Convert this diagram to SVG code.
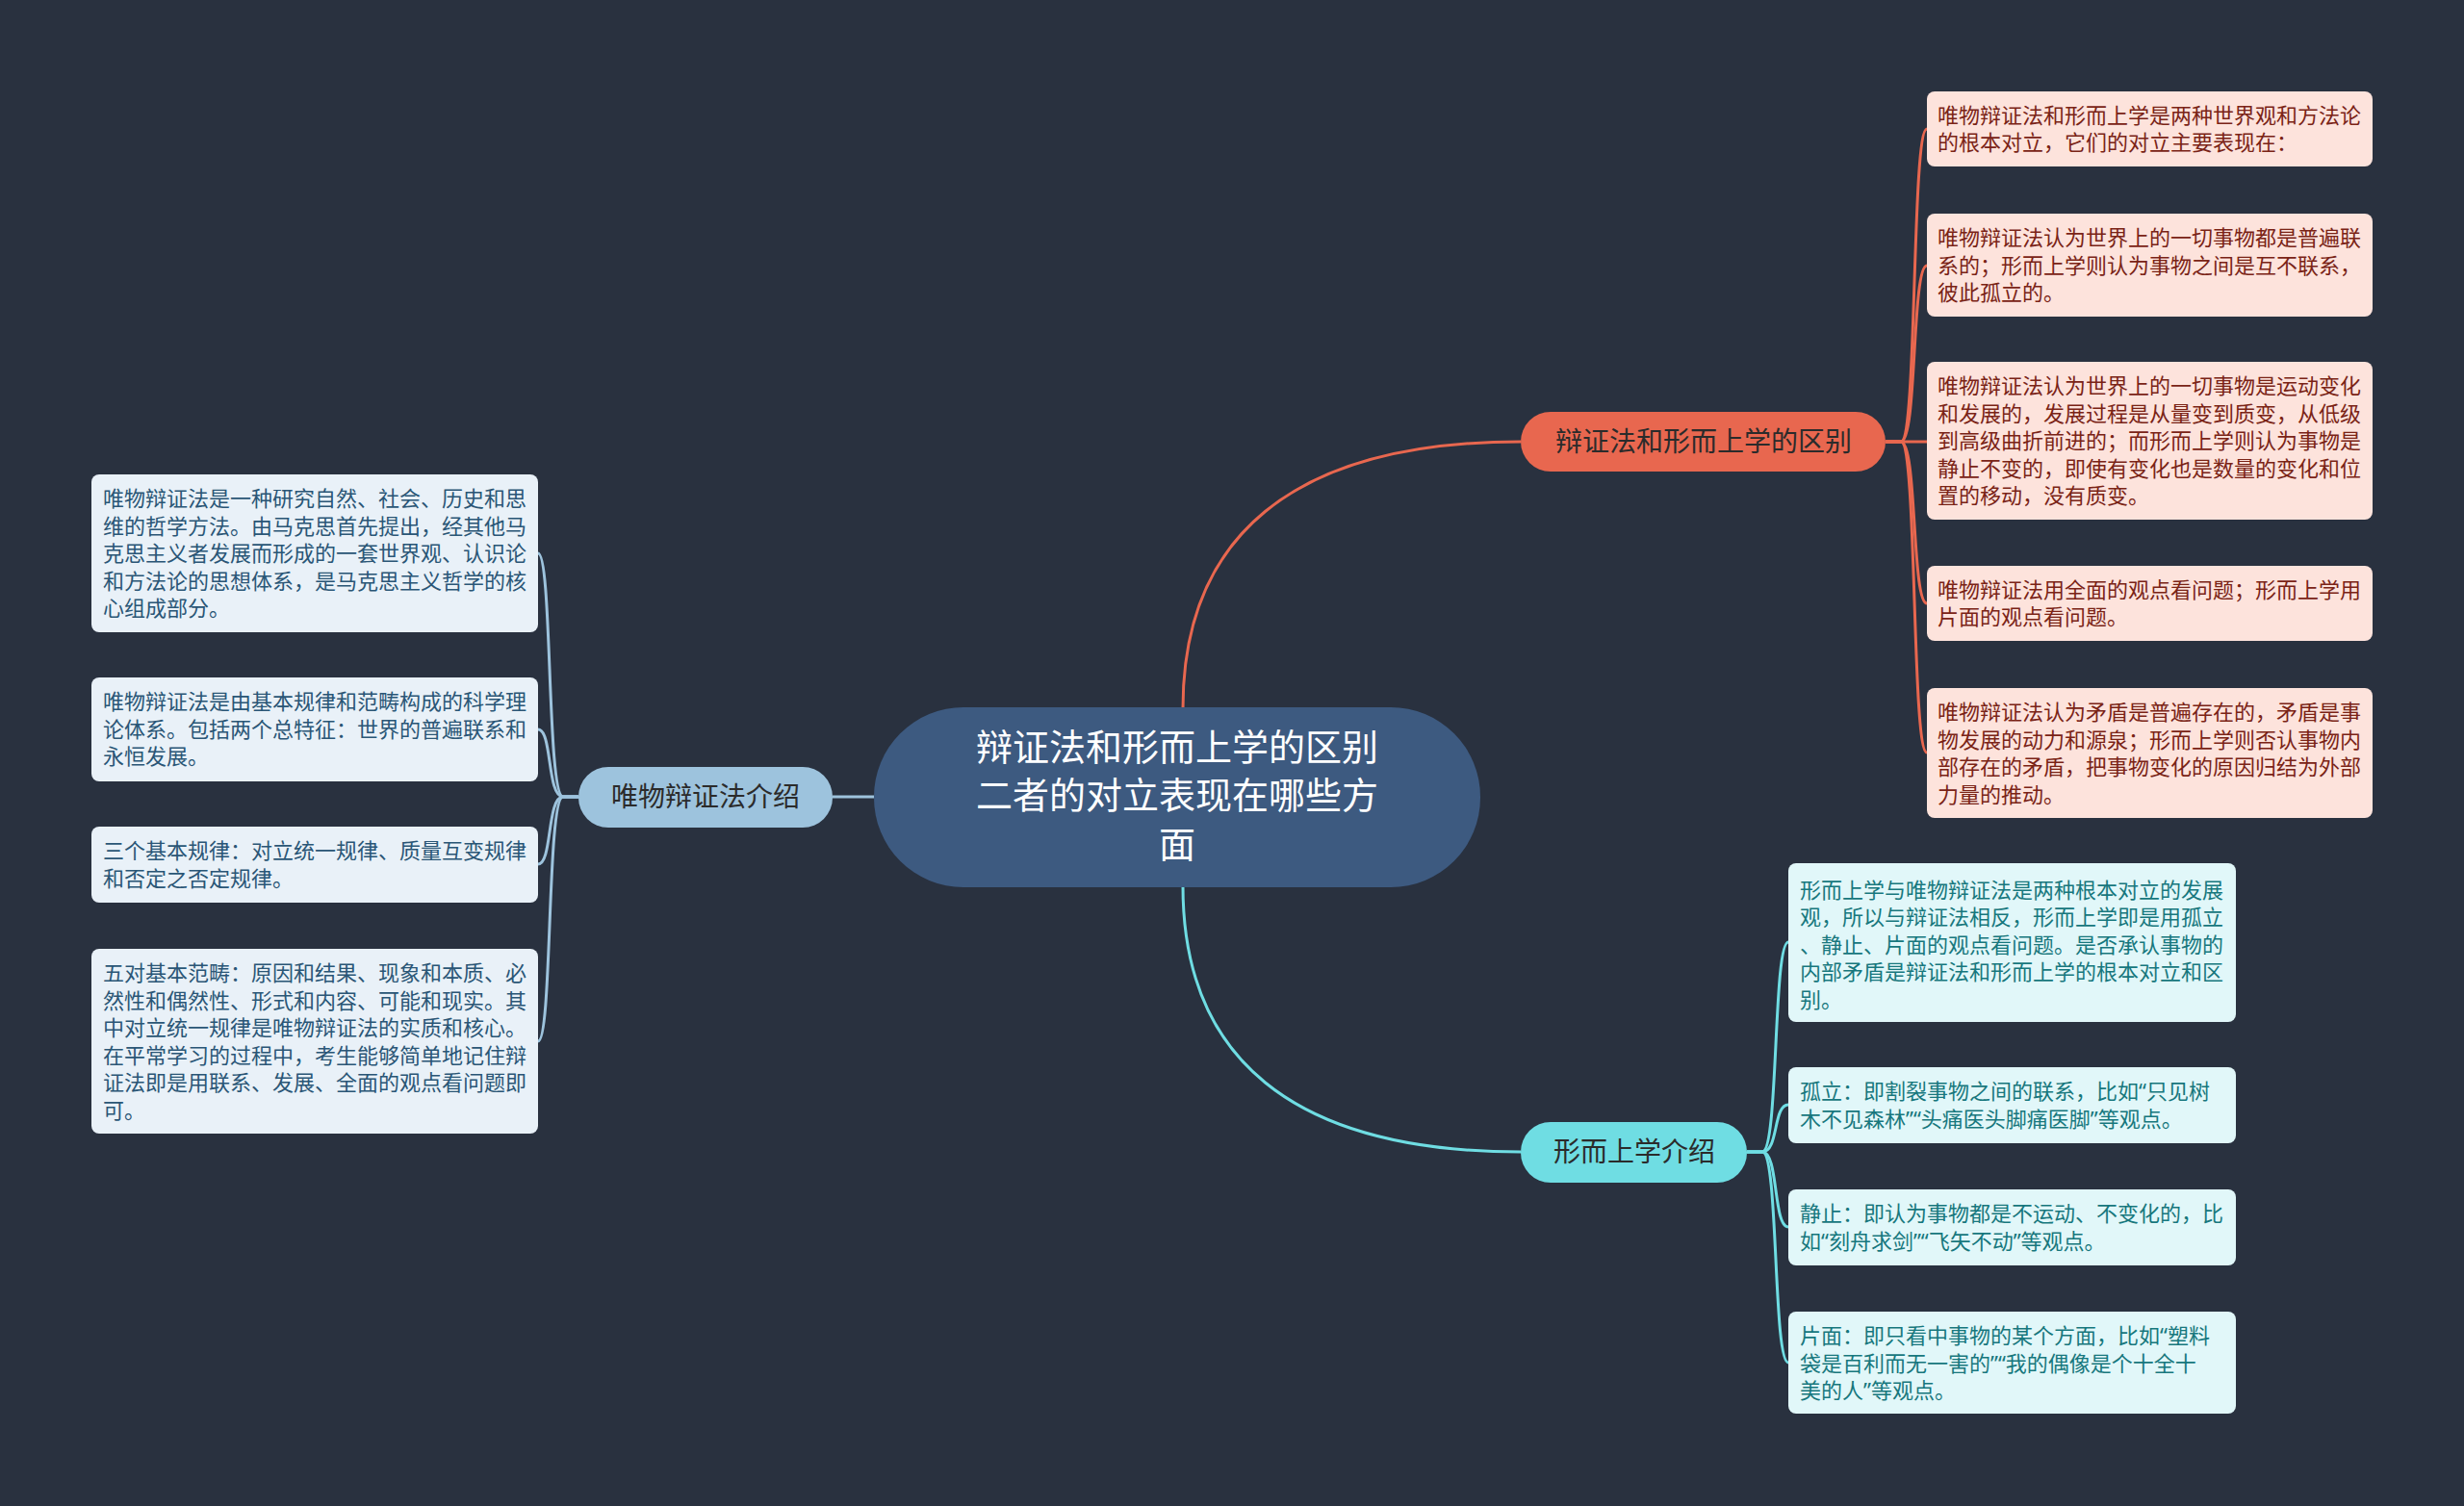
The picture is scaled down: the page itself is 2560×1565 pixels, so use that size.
<svg xmlns="http://www.w3.org/2000/svg" width="2560" height="1565" viewBox="0 0 2560 1565">
<style>
text{font-family:"Noto Sans CJK SC","Noto Sans",sans-serif;}
.c{font-size:22px;font-family:"Noto Sans","Noto Sans CJK SC",sans-serif;}
.oc rect{fill:#fde3dc;}
.oc text{fill:#7a2316;}
.cc rect{fill:#e1f7f9;}
.cc text{fill:#17777d;}
.lc rect{fill:#e9f1f8;}
.lc text{fill:#2a5676;}
.n{font-size:28px;fill:#2b2b2b;text-anchor:middle;}
.eo{stroke:#e8674f;stroke-width:3;fill:none;}
.ec{stroke:#6fdde3;stroke-width:3;fill:none;}
.el{stroke:#9dc3dd;stroke-width:3;fill:none;}
</style>
<rect width="2560" height="1565" fill="#29313f"/>
<g id="connectors">
<path class="eo" d="M1229 736 C1229 560 1340 459 1580 459"/>
<path class="ec" d="M1229 921 C1229 1097 1340 1197 1580 1197"/>
<path class="el" d="M908 828 L865 828"/>
<path class="eo" d="M1959 459 L1975 459 C1992 459 1986 134 2002 134"/>
<path class="eo" d="M1959 459 L1975 459 C1992 459 1986 276 2002 276"/>
<path class="eo" d="M1959 459 L2002 459"/>
<path class="eo" d="M1959 459 L1975 459 C1992 459 1986 627 2002 627"/>
<path class="eo" d="M1959 459 L1975 459 C1992 459 1986 782 2002 782"/>
<path class="ec" d="M1815 1197 L1831 1197 C1848 1197 1842 979 1858 979"/>
<path class="ec" d="M1815 1197 L1831 1197 C1848 1197 1842 1148 1858 1148"/>
<path class="ec" d="M1815 1197 L1831 1197 C1848 1197 1842 1275 1858 1275"/>
<path class="ec" d="M1815 1197 L1831 1197 C1848 1197 1842 1416 1858 1416"/>
<path class="el" d="M601 828 L585 828 C568 828 574 575 559 575"/>
<path class="el" d="M601 828 L585 828 C568 828 574 758 559 758"/>
<path class="el" d="M601 828 L585 828 C568 828 574 898 559 898"/>
<path class="el" d="M601 828 L585 828 C568 828 574 1082 559 1082"/>
</g>
<g id="root">
<rect x="908" y="735" width="630" height="187" rx="93" fill="#3d5a80"/>
<text x="1223" y="790" font-size="38" fill="#ffffff" text-anchor="middle">辩证法和形而上学的区别</text>
<text x="1223" y="840" font-size="38" fill="#ffffff" text-anchor="middle">二者的对立表现在哪些方</text>
<text x="1223" y="891" font-size="38" fill="#ffffff" text-anchor="middle">面</text>
</g>
<g id="n-diff">
<rect x="1580" y="428" width="379" height="62" rx="31" fill="#e8674f"/>
<text class="n" x="1770" y="469">辩证法和形而上学的区别</text>
</g>
<g id="n-meta">
<rect x="1580" y="1166" width="235" height="63" rx="31" fill="#6fdde3"/>
<text class="n" x="1698" y="1207">形而上学介绍</text>
</g>
<g id="n-dial">
<rect x="601" y="797" width="264" height="63" rx="31" fill="#9dc3dd"/>
<text class="n" x="733" y="838">唯物辩证法介绍</text>
</g>
<g id="o1" class="oc">
<rect x="2002" y="95" width="463" height="78" rx="8"/>
<text class="c" x="2013" y="128">唯物辩证法和形而上学是两种世界观和方法论</text>
<text class="c" x="2013" y="156">的根本对立，它们的对立主要表现在：</text>
</g>
<g id="o2" class="oc">
<rect x="2002" y="222" width="463" height="107" rx="8"/>
<text class="c" x="2013" y="255">唯物辩证法认为世界上的一切事物都是普遍联</text>
<text class="c" x="2013" y="284">系的；形而上学则认为事物之间是互不联系，</text>
<text class="c" x="2013" y="312">彼此孤立的。</text>
</g>
<g id="o3" class="oc">
<rect x="2002" y="376" width="463" height="164" rx="8"/>
<text class="c" x="2013" y="409">唯物辩证法认为世界上的一切事物是运动变化</text>
<text class="c" x="2013" y="438">和发展的，发展过程是从量变到质变，从低级</text>
<text class="c" x="2013" y="466">到高级曲折前进的；而形而上学则认为事物是</text>
<text class="c" x="2013" y="495">静止不变的，即使有变化也是数量的变化和位</text>
<text class="c" x="2013" y="523">置的移动，没有质变。</text>
</g>
<g id="o4" class="oc">
<rect x="2002" y="588" width="463" height="78" rx="8"/>
<text class="c" x="2013" y="621">唯物辩证法用全面的观点看问题；形而上学用</text>
<text class="c" x="2013" y="649">片面的观点看问题。</text>
</g>
<g id="o5" class="oc">
<rect x="2002" y="715" width="463" height="135" rx="8"/>
<text class="c" x="2013" y="748">唯物辩证法认为矛盾是普遍存在的，矛盾是事</text>
<text class="c" x="2013" y="777">物发展的动力和源泉；形而上学则否认事物内</text>
<text class="c" x="2013" y="805">部存在的矛盾，把事物变化的原因归结为外部</text>
<text class="c" x="2013" y="834">力量的推动。</text>
</g>
<g id="c1" class="cc">
<rect x="1858" y="897" width="465" height="165" rx="8"/>
<text class="c" x="1870" y="933">形而上学与唯物辩证法是两种根本对立的发展</text>
<text class="c" x="1870" y="961">观，所以与辩证法相反，形而上学即是用孤立</text>
<text class="c" x="1870" y="990">、静止、片面的观点看问题。是否承认事物的</text>
<text class="c" x="1870" y="1018">内部矛盾是辩证法和形而上学的根本对立和区</text>
<text class="c" x="1870" y="1047">别。</text>
</g>
<g id="c2" class="cc">
<rect x="1858" y="1109" width="465" height="79" rx="8"/>
<text class="c" x="1870" y="1142">孤立：即割裂事物之间的联系，比如“只见树</text>
<text class="c" x="1870" y="1171">木不见森林”“头痛医头脚痛医脚”等观点。</text>
</g>
<g id="c3" class="cc">
<rect x="1858" y="1236" width="465" height="79" rx="8"/>
<text class="c" x="1870" y="1269">静止：即认为事物都是不运动、不变化的，比</text>
<text class="c" x="1870" y="1298">如“刻舟求剑”“飞矢不动”等观点。</text>
</g>
<g id="c4" class="cc">
<rect x="1858" y="1363" width="465" height="106" rx="8"/>
<text class="c" x="1870" y="1396">片面：即只看中事物的某个方面，比如“塑料</text>
<text class="c" x="1870" y="1425">袋是百利而无一害的”“我的偶像是个十全十</text>
<text class="c" x="1870" y="1453">美的人”等观点。</text>
</g>
<g id="l1" class="lc">
<rect x="95" y="493" width="464" height="164" rx="8"/>
<text class="c" x="107" y="526">唯物辩证法是一种研究自然、社会、历史和思</text>
<text class="c" x="107" y="555">维的哲学方法。由马克思首先提出，经其他马</text>
<text class="c" x="107" y="583">克思主义者发展而形成的一套世界观、认识论</text>
<text class="c" x="107" y="612">和方法论的思想体系，是马克思主义哲学的核</text>
<text class="c" x="107" y="640">心组成部分。</text>
</g>
<g id="l2" class="lc">
<rect x="95" y="704" width="464" height="108" rx="8"/>
<text class="c" x="107" y="737">唯物辩证法是由基本规律和范畴构成的科学理</text>
<text class="c" x="107" y="766">论体系。包括两个总特征：世界的普遍联系和</text>
<text class="c" x="107" y="794">永恒发展。</text>
</g>
<g id="l3" class="lc">
<rect x="95" y="859" width="464" height="79" rx="8"/>
<text class="c" x="107" y="892">三个基本规律：对立统一规律、质量互变规律</text>
<text class="c" x="107" y="921">和否定之否定规律。</text>
</g>
<g id="l4" class="lc">
<rect x="95" y="986" width="464" height="192" rx="8"/>
<text class="c" x="107" y="1019">五对基本范畴：原因和结果、现象和本质、必</text>
<text class="c" x="107" y="1048">然性和偶然性、形式和内容、可能和现实。其</text>
<text class="c" x="107" y="1076">中对立统一规律是唯物辩证法的实质和核心。</text>
<text class="c" x="107" y="1105">在平常学习的过程中，考生能够简单地记住辩</text>
<text class="c" x="107" y="1133">证法即是用联系、发展、全面的观点看问题即</text>
<text class="c" x="107" y="1162">可。</text>
</g>
</svg>
